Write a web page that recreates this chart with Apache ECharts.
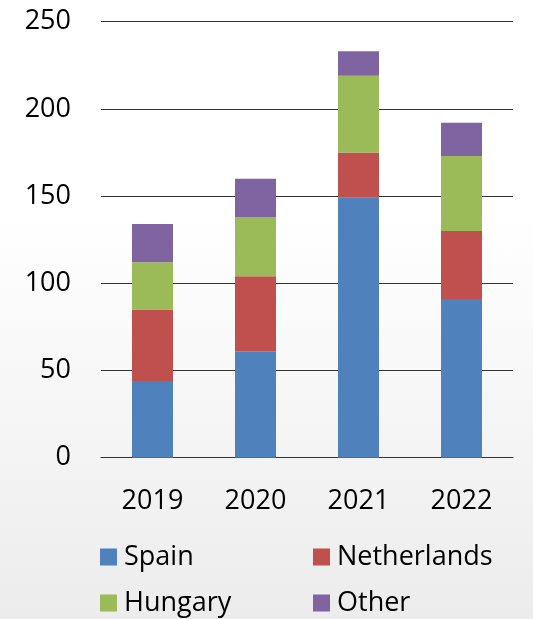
<!DOCTYPE html>
<html>
<head>
<meta charset="utf-8">
<script src="https://cdn.jsdelivr.net/npm/echarts@6/dist/echarts.min.js"></script>
<style>
html,body{margin:0;padding:0;}
#c{width:533px;height:619px;background:linear-gradient(to bottom,#ffffff 0%,#ffffff 35%,#ececec 100%);}
</style>
</head>
<body>
<div id="c"></div>
<script>
const categories = ['2019','2020','2021','2022'];
const spain = [44, 61, 149, 91];
const netherlands = [41, 43, 26, 39];
const hungary = [27, 34, 44, 43];
const other = [22, 22, 14, 19];
const yTicks = [0, 50, 100, 150, 200, 250];

const FONT = 'Open Sans';
const chart = echarts.init(document.getElementById('c'), null, {renderer:'canvas'});
const mk = (name, data, color) => ({
  name, type:'bar', stack:'total', data, barWidth:41,
  itemStyle:{color}, emphasis:{disabled:true}
});
const lg = (name, left, top) => ({
  data:[name], left, top, itemWidth:17, itemHeight:17, icon:'rect', padding:0,
  itemGap:0, selectedMode:false,
  textStyle:{fontFamily:FONT, fontSize:27, color:'#000', lineHeight:30, padding:[0,0,0,2]}
});
chart.setOption({
  backgroundColor:'transparent',
  animation:false,
  textStyle:{fontFamily:FONT},
  grid:{left:101, right:20, top:21.7, bottom:161.3, containLabel:false},
  xAxis:{type:'category', data:categories,
    axisLine:{show:true, lineStyle:{color:'#333', width:1.2}},
    axisTick:{show:false},
    axisLabel:{fontFamily:FONT, fontSize:27, color:'#000', margin:30}},
  yAxis:{type:'value', min:yTicks[0], max:yTicks[yTicks.length-1], interval:50,
    axisLine:{show:false}, axisTick:{show:false},
    splitLine:{lineStyle:{color:'#333', width:1.2}},
    axisLabel:{fontFamily:FONT, fontSize:27, color:'#000', margin:30}},
  legend:[
    lg('Spain', 100, 542),
    lg('Netherlands', 313, 542),
    lg('Hungary', 100, 588),
    lg('Other', 313, 588)
  ],
  series:[
    mk('Spain', spain, '#4F81BD'),
    mk('Netherlands', netherlands, '#C0504D'),
    mk('Hungary', hungary, '#9BBB59'),
    mk('Other', other, '#8064A2')
  ]
});
</script>
</body>
</html>
